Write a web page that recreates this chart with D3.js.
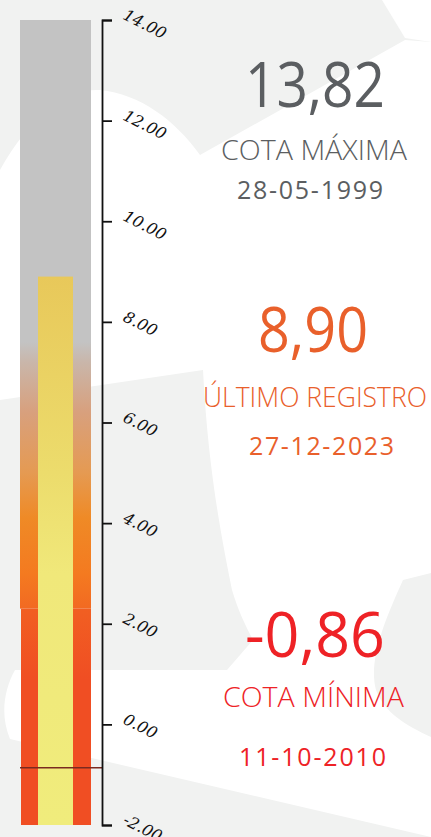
<!DOCTYPE html>
<html>
<head>
<meta charset="utf-8">
<script src="https://cdn.jsdelivr.net/npm/d3@7"></script>
<style>
body { margin: 0; background: #fff; }
svg { display: block; }
</style>
</head>
<body>
<svg></svg>
<script>
// scale + values
var tickValues = [-2, 0, 2, 4, 6, 8, 10, 12, 14];
var scaleMin = -2;
var scaleMax = 14;
var statNames = ["COTA MÁXIMA", "ÚLTIMO REGISTRO", "COTA MÍNIMA"];
var statValues = [13.82, 8.90, -0.86];
var statDates = ["28-05-1999", "27-12-2023", "11-10-2010"];
var statColors = ["#5b5e61", "#e9602b", "#ee2226"];

// gradient stops, by level value
var outerStops = [
	[14, "#c3c3c3"], [7.6, "#c3c3c3"], [7.2, "#c9b6aa"], [6.2, "#d8a07d"],
	[5.0, "#e59a52"], [4.1, "#ef8a26"], [3.0, "#f47a20"], [2.3, "#f26a22"]
];
var lowerStops = [[2.3, "#f15f22"], [0.9, "#f04e23"], [-2, "#f04e23"]];
var innerStops = [[8.9, "#e8c85a"], [5.0, "#ecdc6c"], [3.0, "#f0e87a"], [-2, "#f0ec7c"]];
var splitLevel = 2.3;

var width = 431, height = 837;
var svg = d3.select("svg").attr("width", width).attr("height", height);

var y = d3.scaleLinear().domain([scaleMin, scaleMax]).range([825, 20]);
var axisX = 102;
var outerX = 20, outerW = 71;
var innerX = 38, innerW = 35;

// background
svg.append("rect").attr("width", width).attr("height", height).attr("fill", "#f1f2f1");
svg.append("path").attr("fill", "#fff")
	.attr("d", "M0,170 C30,115 70,88 100,90 C140,94 175,120 200,155 L405,40 L431,42 L431,573 L403,580 " +
		"C385,620 368,660 376,690 C384,712 405,725 431,737 L431,837 L10,739 C0,715 4,690 15,670 " +
		"L227,670 L253,640 C245,625 238,610 232,590 C222,540 208,470 203,370 L0,400 Z");
svg.append("path").attr("fill", "#fff").attr("d", "M382,0 L431,0 L431,42 L405,38 Z");

var defs = svg.append("defs");
function grad(id, stops, top, bottom) {
	var g = defs.append("linearGradient").attr("id", id)
		.attr("gradientUnits", "userSpaceOnUse")
		.attr("x1", 0).attr("x2", 0).attr("y1", y(top)).attr("y2", y(bottom));
	g.selectAll("stop").data(stops).enter().append("stop")
		.attr("offset", d => (y(d[0]) - y(top)) / (y(bottom) - y(top)))
		.attr("stop-color", d => d[1]);
}
grad("gOuter", outerStops, scaleMax, splitLevel);
grad("gLower", lowerStops, splitLevel, scaleMin);
grad("gInner", innerStops, statValues[1], scaleMin);

// thermometer bars
svg.append("rect").attr("x", outerX).attr("width", outerW)
	.attr("y", y(scaleMax)).attr("height", y(splitLevel) - y(scaleMax))
	.attr("fill", "url(#gOuter)");
svg.append("rect").attr("x", outerX + 1).attr("width", outerW - 1)
	.attr("y", y(splitLevel)).attr("height", y(scaleMin) - y(splitLevel))
	.attr("fill", "url(#gLower)");
svg.append("rect").attr("x", innerX).attr("width", innerW)
	.attr("y", y(statValues[1])).attr("height", y(scaleMin) - y(statValues[1]))
	.attr("fill", "url(#gInner)");

// min level line
svg.append("line")
	.attr("x1", outerX).attr("x2", axisX)
	.attr("y1", y(statValues[2])).attr("y2", y(statValues[2]))
	.attr("stroke", "#7a2a20").attr("stroke-width", 1.5);

// axis
var axis = d3.axisRight(y).tickValues(tickValues).tickSize(10).tickSizeOuter(10)
	.tickFormat(d => d3.format(".2f")(d).replace("−", "-"));
var gAxis = svg.append("g").attr("transform", "translate(" + axisX + ",0)").call(axis);
gAxis.selectAll("path, line").attr("stroke", "#111").attr("stroke-width", 1.8);
gAxis.selectAll("text")
	.attr("x", 0).attr("dy", 0)
	.attr("transform", "translate(20,-2) rotate(27)")
	.attr("text-anchor", "start")
	.attr("fill", "#111")
	.style("font-family", "'DejaVu Serif', 'Liberation Serif', serif")
	.style("font-style", "italic")
	.style("font-size", "16px");

// stat blocks
var fmt = d3.formatLocale({decimal: ",", thousands: ".", grouping: [3], currency: ["", ""], minus: "-"}).format(".2f");
var blocks = [
	{num: [245, 107, 140], name: [221, 160, 186], date: [237, 199, 146]},
	{num: [258, 352, 110], name: [203, 407, 224], date: [249, 455, 145]},
	{num: [245, 657, 140], name: [223, 707, 181], date: [239, 766, 147]}
];
var font = "'Open Sans', 'Noto Sans', sans-serif";

// squeeze a text horizontally to a given width
function fitText(t, x, yy, w) {
	var n = t.node().getComputedTextLength();
	t.attr("transform", "translate(" + x + "," + yy + ") scale(" + (w / n) + ",1)");
}

statValues.forEach(function(v, i) {
	var b = blocks[i];
	var tn = svg.append("text")
		.attr("fill", statColors[i]).style("font-family", font).style("font-size", "62px")
		.style("font-weight", 500)
		.text(fmt(v));
	fitText(tn, b.num[0], b.num[1], b.num[2]);
	var tl = svg.append("text")
		.attr("fill", statColors[i]).style("font-family", font).style("font-size", "28px")
		.style("font-weight", 300)
		.text(statNames[i]);
	fitText(tl, b.name[0], b.name[1], b.name[2]);
	svg.append("text").attr("x", b.date[0]).attr("y", b.date[1])
		.attr("textLength", b.date[2]).attr("lengthAdjust", "spacing")
		.attr("fill", statColors[i]).style("font-family", font).style("font-size", "25px")
		.style("font-weight", 500)
		.text(statDates[i]);
});
</script>
</body>
</html>
